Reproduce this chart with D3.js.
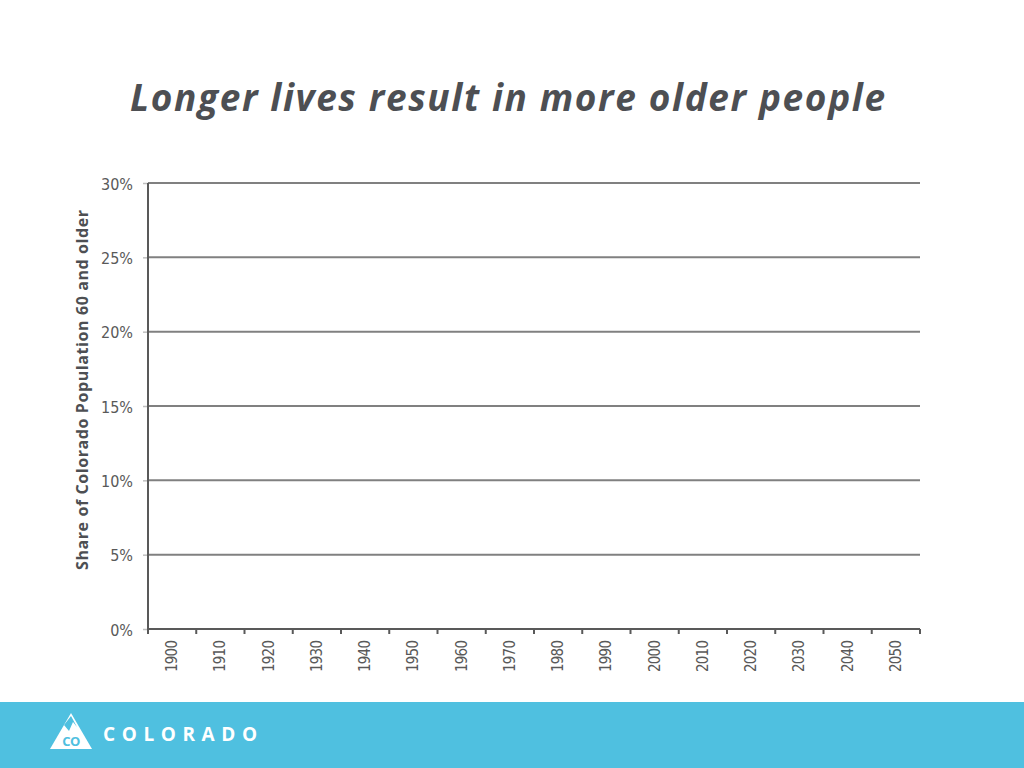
<!DOCTYPE html>
<html>
<head>
<meta charset="utf-8">
<script src="https://cdn.jsdelivr.net/npm/d3@7"></script>
<style>
  body { margin: 0; background: #fff; }
  svg { display: block; }
</style>
</head>
<body>
<div id="chart"></div>
<script>
// Chart data
var years = ["1900", "1910", "1920", "1930", "1940", "1950", "1960", "1970",
             "1980", "1990", "2000", "2010", "2020", "2030", "2040", "2050"];
var yTicks = [0, 0.05, 0.10, 0.15, 0.20, 0.25, 0.30];
var share60 = []; // no values shown in the reference

var title = "Longer lives result in more older people";
var yLabel = "Share of Colorado Population 60 and older";

// Plotting vars
var W = 1024, H = 768;
var margin = {top: 183, right: 104, bottom: 139, left: 148},
    width = W - margin.left - margin.right,
    height = H - margin.top - margin.bottom;

var svg = d3.select("#chart")
  .append("svg")
    .attr("width", W)
    .attr("height", H);

// Title
svg.append("text")
    .attr("x", 130)
    .attr("y", 111)
    .attr("textLength", 755)
    .attr("lengthAdjust", "spacing")
    .style("font-family", "'Open Sans', sans-serif")
    .style("font-style", "italic")
    .style("font-weight", "bold")
    .style("font-size", "37px")
    .style("fill", "#4d4f53")
    .text(title);

var g = svg.append("g")
    .attr("transform", "translate(" + margin.left + "," + margin.top + ")");

// Scales
var x = d3.scaleBand()
    .domain(years)
    .range([0, width]);

var y = d3.scaleLinear()
    .domain([0, 0.30])
    .range([height, 0]);

// Gridlines
g.append("g")
    .selectAll("line")
    .data(yTicks.filter(function(d) { return d > 0; }))
    .enter().append("line")
      .attr("x1", 0)
      .attr("x2", width)
      .attr("y1", function(d) { return y(d); })
      .attr("y2", function(d) { return y(d); })
      .style("stroke", "#808080")
      .style("stroke-width", 2);

// y-axis
var yAxis = d3.axisLeft(y)
    .tickValues(yTicks)
    .tickFormat(d3.format(".0%"))
    .tickSize(5)
    .tickPadding(10);

var yG = g.append("g").call(yAxis);
yG.select(".domain").remove();
yG.selectAll(".tick line").style("stroke", "#bfbfbf").style("stroke-width", 1.5);
yG.selectAll(".tick text")
    .attr("dy", "0.38em")
    .style("font-family", "'Liberation Sans Narrow', 'DejaVu Sans Condensed', sans-serif")
    .style("font-size", "16px")
    .style("fill", "#595959");

// x-axis: ticks on band edges, labels rotated in band middle
var edges = years.map(function(d) { return x(d); }).concat([width]);

g.append("g")
    .selectAll("line")
    .data(edges)
    .enter().append("line")
      .attr("x1", function(d) { return d; })
      .attr("x2", function(d) { return d; })
      .attr("y1", height)
      .attr("y2", height + 5)
      .style("stroke", "#595959")
      .style("stroke-width", 2);

g.append("g")
    .selectAll("text")
    .data(years)
    .enter().append("text")
      .attr("transform", function(d) {
        return "translate(" + (x(d) + x.bandwidth() / 2 + 5) + "," + (height + 11) + ") rotate(-90)";
      })
      .attr("text-anchor", "end")
      .attr("textLength", 32)
      .attr("lengthAdjust", "spacing")
      .style("font-family", "'Liberation Sans Narrow', 'DejaVu Sans Condensed', sans-serif")
      .style("font-size", "15px")
      .style("fill", "#595959")
      .text(function(d) { return d; });

// axis lines
g.append("line")
    .attr("x1", 0).attr("x2", 0)
    .attr("y1", 0).attr("y2", height)
    .style("stroke", "#595959").style("stroke-width", 2);
g.append("line")
    .attr("x1", 0).attr("x2", width)
    .attr("y1", height).attr("y2", height)
    .style("stroke", "#595959").style("stroke-width", 2);

// series (empty)
g.append("path")
    .datum(share60)
    .attr("fill", "none")
    .attr("stroke", "#4dbfe0")
    .attr("d", d3.line()
        .x(function(d, i) { return x(years[i]) + x.bandwidth() / 2; })
        .y(function(d) { return y(d); }));

// y label
svg.append("text")
    .attr("transform", "translate(88,570) rotate(-90)")
    .attr("textLength", 360)
    .attr("lengthAdjust", "spacing")
    .style("font-family", "'Open Sans', sans-serif")
    .style("font-weight", "bold")
    .style("font-size", "16px")
    .style("fill", "#4d4f53")
    .text(yLabel);

// Footer band
var foot = svg.append("g");
foot.append("rect")
    .attr("x", 0).attr("y", 702)
    .attr("width", W).attr("height", H - 702)
    .style("fill", "#4fc0e0");

// logo: mountain triangle
foot.append("path")
    .attr("d", "M50,749 L71,713 L92,749 Z")
    .style("fill", "#fff");
foot.append("path")
    .attr("d", "M64,725 L69,731 L73,722 L77,727 L71,716 Z")
    .style("fill", "#4fc0e0");
foot.append("text")
    .attr("x", 71).attr("y", 746)
    .attr("text-anchor", "middle")
    .style("font-family", "'Open Sans', sans-serif")
    .style("font-weight", "bold")
    .style("font-size", "13px")
    .style("letter-spacing", "-0.5px")
    .style("fill", "#4fc0e0")
    .text("CO");

foot.append("text")
    .attr("x", 103).attr("y", 741)
    .attr("textLength", 154)
    .attr("lengthAdjust", "spacing")
    .style("font-family", "'Open Sans', sans-serif")
    .style("font-weight", "bold")
    .style("font-size", "19px")
    .style("fill", "#fff")
    .text("COLORADO");
</script>
</body>
</html>
